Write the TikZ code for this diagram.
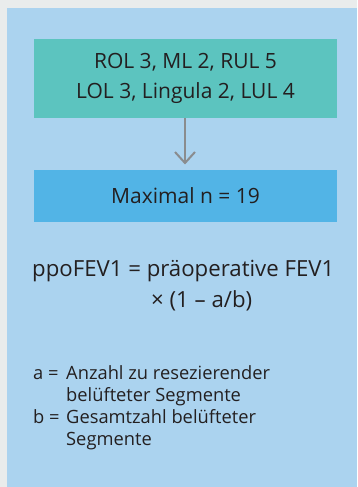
\documentclass[tikz,border=0pt]{standalone}
\usepackage{fontspec}
\setmainfont{Open Sans}
\definecolor{frame}{HTML}{E9ECEC}
\definecolor{panel}{HTML}{ABD3EF}
\definecolor{tealbox}{HTML}{5CC4BF}
\definecolor{bluebox}{HTML}{52B4E6}
\definecolor{ink}{HTML}{231F20}
\definecolor{arrowgray}{HTML}{8A8C8E}
\begin{document}
\begin{tikzpicture}[x=1pt,y=-1pt,
  txt/.style={text=ink, inner sep=0pt},
  boxtxt/.style={txt, align=center, font=\fontsize{21}{30}\selectfont},
  formula/.style={txt, anchor=base west, font=\fontsize{22.2}{27}\selectfont},
  legend/.style={txt, anchor=base west, font=\fontsize{18.3}{22}\selectfont},
  flow/.style={draw=arrowgray, line width=2pt},
  vtip/.style={draw=arrowgray, line width=2pt, line cap=butt}]
  % frame and panel
  \fill[frame] (0,0) rectangle (357,487);
  \useasboundingbox (0,0) rectangle (357,487);
  \fill[panel] (7,8) rectangle (357,487);
  % boxes
  \fill[tealbox] (34,39) rectangle (337,118);
  \fill[bluebox] (34,170) rectangle (337,222);
  \node[boxtxt] (segs) at (185.5,78.5) {ROL 3, ML 2, RUL 5\\LOL 3, Lingula 2, LUL 4};
  \node[boxtxt] (maxn) at (185.5,196) {Maximal n = 19};
  \coordinate (segbot) at (185,118);
  \coordinate (tip) at (185,163);
  \draw[flow] (segbot) -- (tip);
  \draw[vtip] (175,152) -- (tip) -- (195,152);
  % formula
  \node[formula] (f1) at (32,276) {ppoFEV1 = präoperative FEV1};
  \node[formula] (f2) at (151,307) {× (1 – a/b)};
  % legend
  \node[legend] (la) at (33,379) {a =};
  \node[legend] (la1) at (66,379) {Anzahl zu resezierender};
  \node[legend] (la2) at (66,401) {belüfteter Segmente};
  \node[legend] (lb) at (33,423) {b =};
  \node[legend] (lb1) at (66,423) {Gesamtzahl belüfteter};
  \node[legend] (lb2) at (66,445) {Segmente};
\end{tikzpicture}
\end{document}
